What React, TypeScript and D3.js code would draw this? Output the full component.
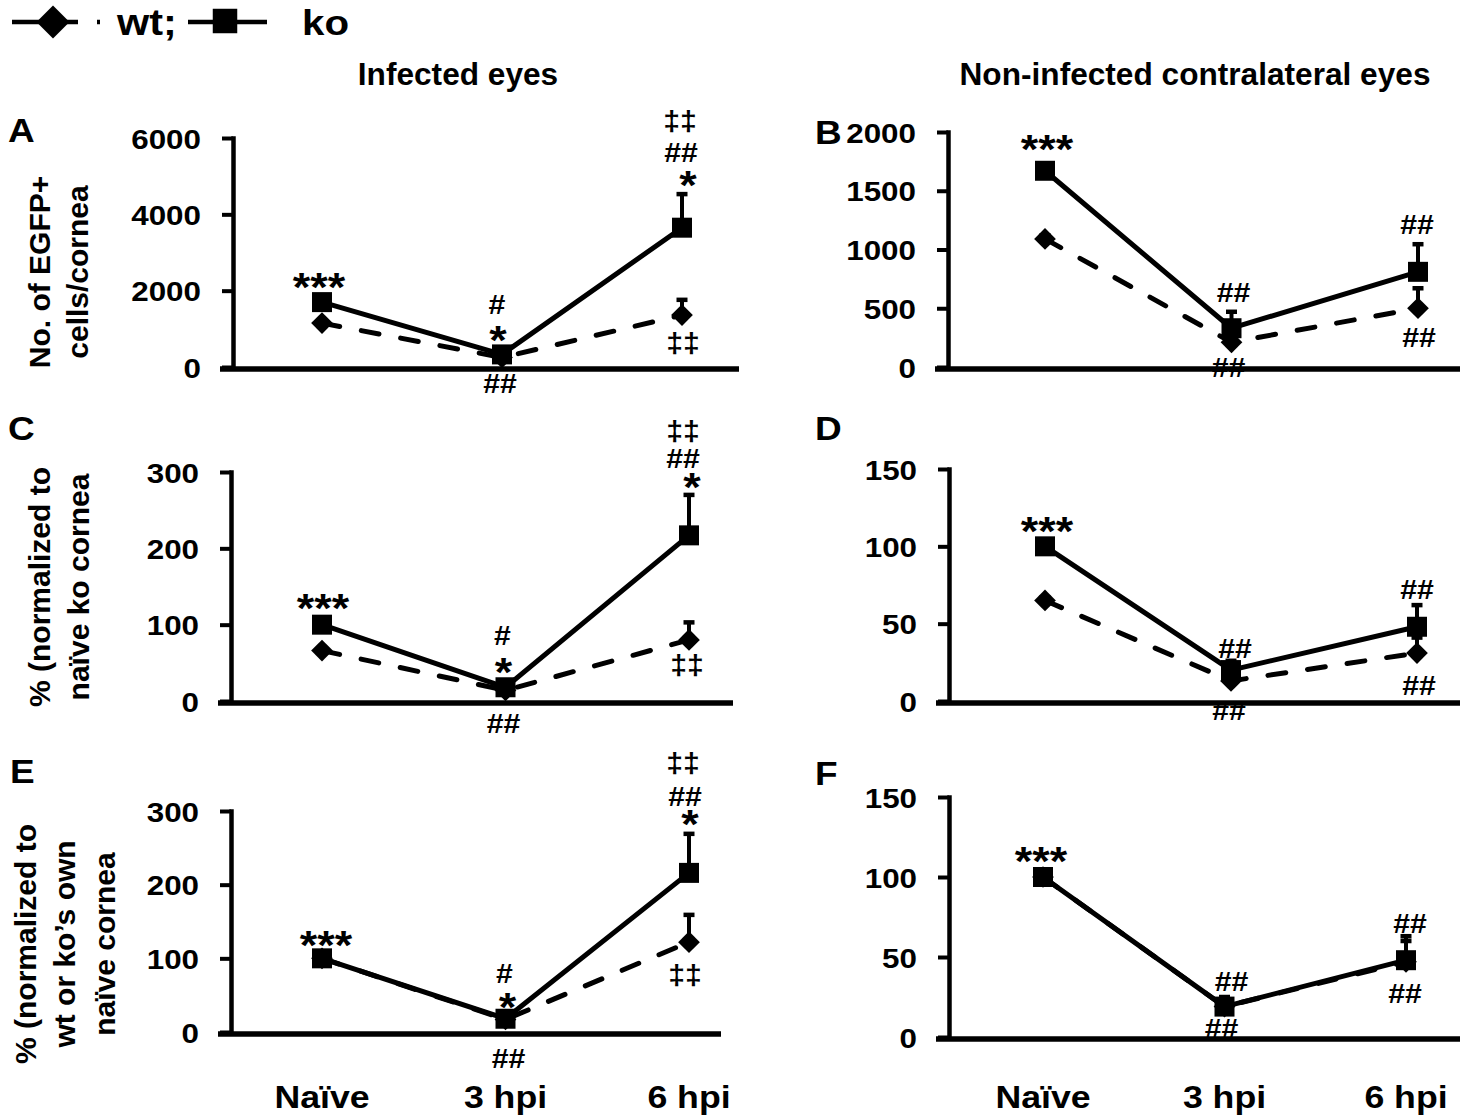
import React, { useEffect, useRef } from 'react';
import * as d3 from 'd3';

const timepoints = ['Naïve', '3 hpi', '6 hpi'];

// A: infected eyes, EGFP+ cells per cornea
const wtA = [1150, 250, 1360];
const wtAErr = [40, 60, 400];
const koA = [1700, 330, 3650];
const koAErr = [60, 90, 880];

// B: contralateral eyes, EGFP+ cells per cornea
const wtB = [1090, 210, 500];
const wtBErr = [30, 60, 170];
const koB = [1670, 330, 810];
const koBErr = [40, 140, 235];

// C: infected eyes, % of naive ko
const wtC = [66, 14, 80];
const wtCErr = [2, 3, 23];
const koC = [100, 18, 217];
const koCErr = [3, 5, 53];

// D: contralateral eyes, % of naive ko
const wtD = [65, 13, 31];
const wtDErr = [2, 3, 10];
const koD = [100, 20, 48];
const koDErr = [2, 6, 14];

// E: infected eyes, % of own naive
const wtE = [100, 17, 122];
const wtEErr = [3, 3, 37];
const koE = [100, 18, 216];
const koEErr = [3, 5, 53];

// F: contralateral eyes, % of own naive
const wtF = [100, 19, 47];
const wtFErr = [2, 4, 13];
const koF = [100, 19, 48];
const koFErr = [2, 6, 15];

const ticksCount = [0, 2000, 4000, 6000];
const ticksCountB = [0, 500, 1000, 1500, 2000];
const ticksPct300 = [0, 100, 200, 300];
const ticksPct150 = [0, 50, 100, 150];

type Note = { i: number; at: 'ko' | 'wt' | 'axis'; text: string; dx: number; dy: number };

const notesA: Note[] = [
  { i: 0, at: 'ko', text: '***', dx: -3, dy: -24 },
  { i: 1, at: 'ko', text: '#', dx: -5, dy: -50 },
  { i: 1, at: 'ko', text: '*', dx: -4, dy: -23 },
  { i: 1, at: 'axis', text: '##', dx: -2, dy: 17 },
  { i: 2, at: 'ko', text: '‡‡', dx: -2, dy: -105 },
  { i: 2, at: 'ko', text: '##', dx: -1, dy: -75 },
  { i: 2, at: 'ko', text: '*', dx: 6, dy: -51 },
  { i: 2, at: 'wt', text: '‡‡', dx: 1, dy: 30 },
];
const notesB: Note[] = [
  { i: 0, at: 'ko', text: '***', dx: 2, dy: -30 },
  { i: 1, at: 'ko', text: '##', dx: 2, dy: -36 },
  { i: 1, at: 'axis', text: '##', dx: -3, dy: 1 },
  { i: 2, at: 'ko', text: '##', dx: -1, dy: -47 },
  { i: 2, at: 'wt', text: '##', dx: 1, dy: 29 },
];
const notesC: Note[] = [
  { i: 0, at: 'ko', text: '***', dx: 1, dy: -25 },
  { i: 1, at: 'ko', text: '#', dx: -3, dy: -52 },
  { i: 1, at: 'ko', text: '*', dx: -2, dy: -24 },
  { i: 1, at: 'axis', text: '##', dx: -2, dy: 23 },
  { i: 2, at: 'ko', text: '‡‡', dx: -6, dy: -103 },
  { i: 2, at: 'ko', text: '##', dx: -6, dy: -77 },
  { i: 2, at: 'ko', text: '*', dx: 3, dy: -57 },
  { i: 2, at: 'wt', text: '‡‡', dx: -2, dy: 27 },
];
const notesD: Note[] = [
  { i: 0, at: 'ko', text: '***', dx: 2, dy: -24 },
  { i: 1, at: 'ko', text: '##', dx: 4, dy: -22 },
  { i: 1, at: 'axis', text: '##', dx: -2, dy: 10 },
  { i: 2, at: 'ko', text: '##', dx: 0, dy: -37 },
  { i: 2, at: 'wt', text: '##', dx: 2, dy: 32 },
];
const notesE: Note[] = [
  { i: 0, at: 'ko', text: '***', dx: 4, dy: -22 },
  { i: 1, at: 'ko', text: '#', dx: -1, dy: -45 },
  { i: 1, at: 'ko', text: '*', dx: 2, dy: -20 },
  { i: 1, at: 'axis', text: '##', dx: 3, dy: 27 },
  { i: 2, at: 'ko', text: '‡‡', dx: -6, dy: -108 },
  { i: 2, at: 'ko', text: '##', dx: -4, dy: -76 },
  { i: 2, at: 'ko', text: '*', dx: 1, dy: -57 },
  { i: 2, at: 'wt', text: '‡‡', dx: -4, dy: 35 },
];
const notesF: Note[] = [
  { i: 0, at: 'ko', text: '***', dx: -2, dy: -25 },
  { i: 1, at: 'ko', text: '##', dx: 7, dy: -25 },
  { i: 1, at: 'axis', text: '##', dx: -3, dy: -8 },
  { i: 2, at: 'ko', text: '##', dx: 4, dy: -37 },
  { i: 2, at: 'ko', text: '##', dx: -1, dy: 33 },
];

const FONT = "'Liberation Sans', Arial, Helvetica, sans-serif";

const panels = [
  {
    letter: 'A', wt: wtA, wtErr: wtAErr, ko: koA, koErr: koAErr, ticks: ticksCount, notes: notesA,
    axisX: 233, yTop: 138, yZero: 367, xFirst: 322, xLast: 682, axisEnd: 739, lx: 8, ly: 142,
    title: ['No. of EGFP+', 'cells/cornea'], titleX: [50, 88], titleY: 272, xLabels: false,
  },
  {
    letter: 'B', wt: wtB, wtErr: wtBErr, ko: koB, koErr: koBErr, ticks: ticksCountB, notes: notesB,
    axisX: 948, yTop: 132, yZero: 367, xFirst: 1045, xLast: 1418, axisEnd: 1460, lx: 815, ly: 144,
    title: [], titleX: [], titleY: 0, xLabels: false,
  },
  {
    letter: 'C', wt: wtC, wtErr: wtCErr, ko: koC, koErr: koCErr, ticks: ticksPct300, notes: notesC,
    axisX: 231, yTop: 472, yZero: 701, xFirst: 322, xLast: 689, axisEnd: 733, lx: 8, ly: 440,
    title: ['% (normalized to', 'naïve ko cornea'], titleX: [50, 89], titleY: 587, xLabels: false,
  },
  {
    letter: 'D', wt: wtD, wtErr: wtDErr, ko: koD, koErr: koDErr, ticks: ticksPct150, notes: notesD,
    axisX: 949, yTop: 469, yZero: 701, xFirst: 1045, xLast: 1417, axisEnd: 1460, lx: 815, ly: 440,
    title: [], titleX: [], titleY: 0, xLabels: false,
  },
  {
    letter: 'E', wt: wtE, wtErr: wtEErr, ko: koE, koErr: koEErr, ticks: ticksPct300, notes: notesE,
    axisX: 231, yTop: 811, yZero: 1032, xFirst: 322, xLast: 689, axisEnd: 721, lx: 10, ly: 783,
    title: ['% (normalized to', 'wt or ko’s own', 'naïve cornea'], titleX: [36, 75, 115], titleY: 944, xLabels: true,
  },
  {
    letter: 'F', wt: wtF, wtErr: wtFErr, ko: koF, koErr: koFErr, ticks: ticksPct150, notes: notesF,
    axisX: 949, yTop: 797, yZero: 1037, xFirst: 1043, xLast: 1406, axisEnd: 1460, lx: 815, ly: 785,
    title: [], titleX: [], titleY: 0, xLabels: true,
  },
];

// stretch text horizontally, the source figure is a bit wider than plain Arial
function stretch(sel: d3.Selection<SVGTextElement, any, any, any>, k: number) {
  sel.each(function () {
    const w = this.getComputedTextLength();
    d3.select(this).attr('textLength', w * k).attr('lengthAdjust', 'spacingAndGlyphs');
  });
}

// offset from glyph centre to baseline, in em
const centreShift = (t: string) => (t.startsWith('*') ? 0.565 : t.startsWith('‡') ? 0.27 : 0.35);

const App: React.FC = () => {
  const ref = useRef<SVGSVGElement>(null);

  useEffect(() => {
    if (!ref.current) return;
    const svg = d3.select(ref.current);
    svg.selectAll('*').remove();
    svg.append('rect').attr('width', 1460).attr('height', 1116).attr('fill', '#fff');

    const root = svg.append('g').attr('font-family', FONT).attr('font-weight', 'bold').attr('fill', '#000');

    // legend
    const leg = root.append('g');
    leg.append('line').attr('x1', 12).attr('x2', 100).attr('y1', 22).attr('y2', 22)
      .attr('stroke', '#000').attr('stroke-width', 4.5).attr('stroke-dasharray', '66,19,4');
    leg.append('path').attr('transform', 'translate(53,22)').attr('d', d3.symbol(d3.symbolDiamond2, 694)());
    leg.append('text').attr('x', 117).attr('y', 35).attr('font-size', 36).text('wt;').call(stretch, 1.15);
    leg.append('line').attr('x1', 188).attr('x2', 267).attr('y1', 22).attr('y2', 22)
      .attr('stroke', '#000').attr('stroke-width', 4.5);
    leg.append('path').attr('transform', 'translate(225,21)').attr('d', d3.symbol(d3.symbolSquare, 600)());
    leg.append('text').attr('x', 302).attr('y', 35).attr('font-size', 35).text('ko').call(stretch, 1.15);

    // column headings
    root.append('text').attr('x', 458).attr('y', 85).attr('text-anchor', 'middle').attr('font-size', 31)
      .text('Infected eyes').call(stretch, 1.02);
    root.append('text').attr('x', 1195).attr('y', 85).attr('text-anchor', 'middle').attr('font-size', 31)
      .text('Non-infected contralateral eyes').call(stretch, 1.02);

    panels.forEach(p => {
      const x = d3.scalePoint<string>().domain(timepoints).range([p.xFirst, p.xLast]);
      const yMax = d3.max(p.ticks) as number;
      const y = d3.scaleLinear().domain([0, yMax]).range([p.yZero, p.yTop]);
      const px = (i: number) => x(timepoints[i]) as number;
      const g = root.append('g');

      // panel letter
      g.append('text').attr('x', p.lx).attr('y', p.ly).attr('font-size', 33).text(p.letter).call(stretch, 1.12);

      // y title
      p.title.forEach((t, j) => {
        g.append('text')
          .attr('transform', `translate(${p.titleX[j]},${p.titleY}) rotate(-90)`)
          .attr('text-anchor', 'middle').attr('font-size', 30).text(t);
      });

      // y axis
      const ax = g.append('g').attr('transform', `translate(${p.axisX},0)`)
        .call(d3.axisLeft(y).tickValues(p.ticks).tickSize(11).tickSizeOuter(0).tickPadding(21).tickFormat(d3.format('d')));
      ax.attr('font-family', FONT).attr('font-size', 28);
      ax.select('.domain').attr('stroke', '#000').attr('stroke-width', 4.5).attr('stroke-linecap', 'square');
      ax.selectAll('.tick line').attr('stroke', '#000').attr('stroke-width', 4);
      ax.selectAll<SVGTextElement, number>('.tick text').attr('fill', '#000').attr('dy', '0.36em').call(stretch, 1.12);

      // x axis
      g.append('line').attr('x1', p.axisX - 13).attr('x2', p.axisEnd)
        .attr('y1', p.yZero + 2).attr('y2', p.yZero + 2).attr('stroke', '#000').attr('stroke-width', 5.5);

      if (p.xLabels) {
        g.selectAll('text.xl').data(timepoints).join('text').attr('class', 'xl')
          .attr('x', d => x(d) as number).attr('y', 1108).attr('text-anchor', 'middle')
          .attr('font-size', 31).text(d => d).call(stretch, 1.15);
      }

      const line = d3.line<number>().x((_, i) => px(i)).y(d => y(d));

      const drawErr = (vals: number[], errs: number[]) => {
        vals.forEach((v, i) => {
          const top = y(v + errs[i]);
          g.append('line').attr('x1', px(i)).attr('x2', px(i)).attr('y1', y(v)).attr('y2', top)
            .attr('stroke', '#000').attr('stroke-width', 4);
          g.append('line').attr('x1', px(i) - 5.5).attr('x2', px(i) + 5.5).attr('y1', top).attr('y2', top)
            .attr('stroke', '#000').attr('stroke-width', 4.5);
        });
      };

      // wt: dashed + diamonds
      drawErr(p.wt, p.wtErr);
      g.append('path').attr('d', line(p.wt)).attr('fill', 'none').attr('stroke', '#000')
        .attr('stroke-width', 5).attr('stroke-dasharray', '18,22').attr('stroke-linecap', 'round');
      g.selectAll('path.wt').data(p.wt).join('path').attr('class', 'wt')
        .attr('transform', (d, i) => `translate(${px(i)},${y(d)})`)
        .attr('d', d3.symbol(d3.symbolDiamond2, 300)());

      // ko: solid + squares
      drawErr(p.ko, p.koErr);
      g.append('path').attr('d', line(p.ko)).attr('fill', 'none').attr('stroke', '#000')
        .attr('stroke-width', 5).attr('stroke-linejoin', 'round');
      g.selectAll('path.ko').data(p.ko).join('path').attr('class', 'ko')
        .attr('transform', (d, i) => `translate(${px(i)},${y(d)})`)
        .attr('d', d3.symbol(d3.symbolSquare, 400)());

      // significance marks
      p.notes.forEach(n => {
        const baseY = n.at === 'ko' ? y(p.ko[n.i]) : n.at === 'wt' ? y(p.wt[n.i]) : y(0);
        const fs = n.text.startsWith('*') ? 40 : 27;
        g.append('text')
          .attr('x', px(n.i) + n.dx)
          .attr('y', baseY + n.dy + centreShift(n.text) * fs)
          .attr('text-anchor', 'middle')
          .attr('font-size', fs)
          .attr('font-weight', 'bold')
          .text(n.text)
          .call(stretch, 1.12);
      });
    });
  }, []);

  return (
    <svg ref={ref} width={1460} height={1116}
      style={{ position: 'absolute', left: 0, top: 0, display: 'block' }} />
  );
};

export default App;
